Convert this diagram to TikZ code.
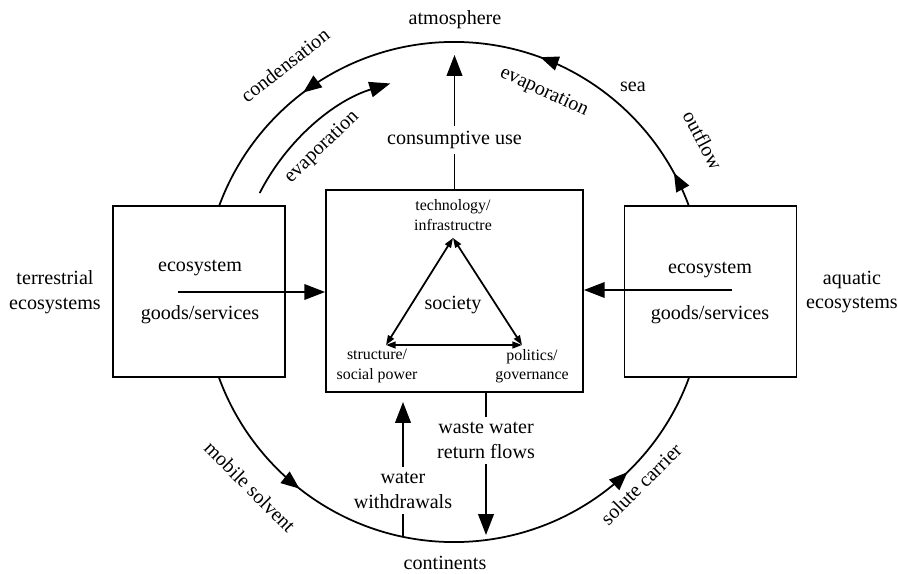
\documentclass[tikz,border=0pt]{standalone}
\usepackage{fontspec}
\setmainfont{Liberation Serif}
\usetikzlibrary{arrows.meta,decorations.markings}

\begin{document}
\begin{tikzpicture}[
	x = 0.025cm, y = 0.025cm, line width = 1.25pt,
	every node/.append style = {font=\fontsize{14.3}{17.7}\selectfont, align=center},
	minor/.style = {font=\fontsize{11.3}{13.8}\selectfont, inner sep=1pt},
	flow/.style = {-{Triangle[length=5.2mm, width=3.9mm]}},
	pair/.style = {{Triangle[length=2.4mm, width=1.7mm]}-{Triangle[length=2.4mm, width=1.7mm]}},
	ecobox/.style = {draw, fill=white, minimum width=4.3cm, minimum height=4.275cm},
	ring/.style = {postaction=decorate, decoration={markings,
		mark=at position 0.079 with {\arrow{Triangle[length=4.6mm, width=3.6mm]}},
		mark=at position 0.194 with {\arrow{Triangle[length=4.6mm, width=3.6mm]}},
		mark=at position 0.353 with {\arrow{Triangle[length=4.6mm, width=3.6mm]}},
		mark=at position 0.644 with {\arrow{Triangle[length=4.6mm, width=3.6mm]}},
		mark=at position 0.872 with {\arrow{Triangle[length=4.6mm, width=3.6mm]}}}}
]

\useasboundingbox (0,0) rectangle (898,573);

% water cycle
\coordinate (c) at (454,281);
\draw[ring] (c) circle[radius=6.25cm];
\draw[flow] ([shift={(153:5.45cm)}]c) arc[start angle=153, end angle=107, radius=5.45cm];

% boxes
\node[ecobox] (terr) at (199,281.5) {};
\node[ecobox] (aqua) at (710.5,281.5) {};
\node[draw, fill=white, minimum width=6.425cm, minimum height=5.05cm] (soc) at (454.5,282) {};

% labels round the cycle
\node (atm) at (455,553) {atmosphere};
\node (cont) at (445,10) {continents};
\node (terrlab) at (55,281) {terrestrial\\ecosystems};
\node (aqualab) at (852,281) {aquatic\\ecosystems};
\node[rotate=38] (cond) at (285,508) {condensation};
\node[rotate=44] (evapl) at (322,426) {evaporation};
\node[rotate=-25] (evapr) at (544,481) {evaporation};
\node (sea) at (633,486) {sea};
\node[rotate=-62] (out) at (703,433) {outflow};
\node[rotate=-45] (mob) at (250,86) {mobile solvent};
\node[rotate=45] (sol) at (641,89) {solute carrier};

% ecosystem goods
\node (terreco) at (200,305) {ecosystem};
\node (terrgood) at (200,258) {goods/services};
\node (aquaeco) at (710,303) {ecosystem};
\node (aquagood) at (710,258) {goods/services};
\coordinate (terrsrc) at (178,281);
\coordinate (aquasrc) at (732,283);
\draw[flow] (terrsrc) -- (terrsrc -| soc.west);
\draw[flow] (aquasrc) -- (aquasrc -| soc.east);

% society
\coordinate (tech) at (453,335);
\coordinate (struct) at (386,228);
\coordinate (pol) at (522,228);
\draw[pair] (struct) -- (tech);
\draw[pair] (tech) -- (pol);
\draw[pair] (struct) -- (pol);
\node[minor] (techlab) at (453,358) {technology/\\infrastructre};
\node[minor] (structlab) at (377,207) {structure/\\social power};
\node[minor] (pollab) at (532,207) {politics/\\governance};
\node (society) at (453,268) {society};

% use of water
\node (cons) at (454.5,433) {consumptive use};
\coordinate (atmtip) at (454.5,518);
\draw (soc.north) -- (cons);
\draw[flow] (cons) -- (atmtip);

\node (withdraw) at (403,82.5) {water\\withdrawals};
\coordinate (wbase) at (403,36);
\coordinate (wtip) at (403,171);
\draw (wbase) -- (withdraw);
\draw[flow] (withdraw) -- (wtip);

\node (waste) at (486,132.5) {waste water\\return flows};
\coordinate (rtip) at (486,38);
\draw (soc.south -| waste) -- (waste);
\draw[flow] (waste) -- (rtip);

\end{tikzpicture}
\end{document}
